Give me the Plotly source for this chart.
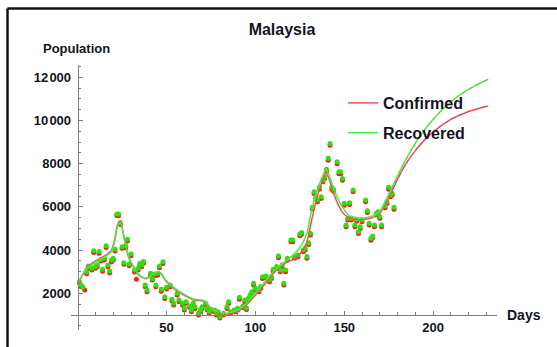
import plotly.graph_objects as go

# Daily observations (day number, population)
recovered_days = [1, 2, 3, 5, 6, 7, 8, 9, 10, 11, 12, 13, 14, 15, 16, 17, 18, 19, 20, 21,
                  22, 23, 24, 25, 26, 27, 28, 29, 30, 32, 34, 35, 36, 37, 38, 39, 41, 42,
                  43, 44, 45, 46, 47, 48, 49, 50, 52, 53, 54, 56, 57, 59, 60, 61, 63, 64,
                  65, 66, 68, 69, 70, 72, 73, 74, 75, 77, 78, 79, 80, 82, 84, 85, 86, 88,
                  89, 90, 91, 93, 94, 95, 96, 97, 98, 99, 100, 102, 103, 104, 106, 107,
                  108, 109, 110, 112, 113, 114, 115, 116, 117, 118, 120, 121, 122, 124,
                  125, 126, 127, 128, 129, 130, 131, 132, 133, 134, 135, 136, 137, 138,
                  139, 140, 141, 142, 143, 144, 146, 147, 148, 149, 150, 151, 152, 153,
                  154, 155, 156, 157, 158, 159, 160, 162, 163, 164, 165, 166, 167, 168,
                  169, 170, 171, 173, 174, 175, 176, 177, 178]
recovered_vals = [2540, 2385, 2280, 3000, 3265, 3235, 3160, 3975, 3235, 3310, 3930, 3570,
                  3110, 3620, 4206, 3310, 3030, 3540, 3620, 4040, 5670, 5670, 5270, 4160,
                  3420, 4200, 4500, 3360, 3820, 3080, 3160, 3390, 3310, 3470, 2385, 2150,
                  2925, 2690, 2895, 2385, 2925, 3265, 2185, 3465, 1845, 2280, 2385, 1720,
                  1537, 2000, 1690, 1537, 1305, 1614, 1413, 1228, 1537, 1382, 1075, 1228,
                  1382, 1537, 1305, 1150, 1260, 1228, 1075, 1150, 920, 1075, 1382, 1614,
                  1150, 1228, 1228, 1305, 1815, 1413, 1690, 1320, 1770, 1920, 2075, 2460,
                  2230, 2150, 2310, 2770, 2800, 2690, 2615, 2770, 3110, 3235, 3725, 3080,
                  3310, 2460, 3080, 3620, 4470, 4470, 3700, 3775, 4745, 4810, 4005, 4080,
                  3700, 4345, 4780, 5980, 6705, 6475, 6320, 6905, 6475, 7245, 7400, 7740,
                  8250, 8940, 6905, 6815, 8095, 7630, 7630, 7320, 6165, 5160, 5470, 6195,
                  5470, 6780, 5160, 5425, 4855, 5085, 5395, 6320, 5825, 5240, 4545, 4655,
                  5160, 5700, 5780, 5550, 5160, 6040, 6240, 6905, 6550, 6630, 5980]

confirmed_days = [1, 2, 4, 5, 6, 7, 8, 9, 10, 11, 12, 13, 14, 15, 16, 17, 18, 19, 20, 21,
                  22, 23, 24, 25, 26, 27, 28, 29, 30, 32, 33, 34, 35, 36, 37, 38, 39, 41,
                  42, 43, 44, 45, 46, 47, 48, 49, 50, 52, 53, 54, 56, 57, 59, 60, 61, 63,
                  64, 65, 66, 68, 69, 70, 72, 73, 74, 75, 77, 78, 79, 80, 82, 84, 85, 86,
                  88, 89, 90, 91, 93, 94, 95, 96, 97, 98, 99, 100, 102, 103, 104, 106,
                  107, 108, 109, 110, 112, 113, 114, 115, 116, 117, 118, 120, 121, 122,
                  124, 125, 126, 127, 128, 129, 130, 131, 132, 133, 134, 135, 136, 137,
                  138, 139, 140, 141, 142, 143, 144, 146, 147, 148, 149, 150, 151, 152,
                  153, 154, 155, 156, 157, 158, 159, 160, 162, 163, 164, 165, 166, 167,
                  168, 169, 170, 171, 173, 174, 175, 176, 177, 178]
confirmed_vals = [2460, 2300, 2150, 2910, 3190, 3150, 3080, 3890, 3160, 3230, 3850, 3490,
                  3020, 3540, 4120, 3230, 2950, 3450, 3540, 3960, 5600, 5590, 5190, 4080,
                  3340, 4110, 4420, 3280, 3740, 2990, 2650, 3080, 3310, 3230, 3390, 2300,
                  2070, 2840, 2610, 2810, 2300, 2840, 3180, 2100, 3380, 1760, 2200, 2300,
                  1640, 1460, 1920, 1610, 1460, 1230, 1540, 1340, 1150, 1460, 1300, 1000,
                  1150, 1300, 1460, 1230, 1080, 1180, 1150, 1000, 1080, 860, 1000, 1300,
                  1540, 1080, 1150, 1150, 1230, 1730, 1340, 1610, 1250, 1690, 1840, 1990,
                  2380, 2150, 2070, 2230, 2690, 2720, 2610, 2530, 2690, 3030, 3150, 3640,
                  3000, 3230, 2380, 3000, 3540, 4390, 4390, 3620, 3690, 4660, 4730, 3920,
                  4000, 3620, 4260, 4700, 5900, 6620, 6390, 6240, 6820, 6390, 7160, 7310,
                  7650, 8160, 8850, 6820, 6730, 8000, 7540, 7540, 7230, 6080, 5080, 5390,
                  6110, 5390, 6700, 5080, 5340, 4770, 5000, 5310, 6240, 5740, 5160, 4460,
                  4570, 5080, 5620, 5700, 5470, 5080, 5960, 6160, 6820, 6470, 6550, 5890]

# Fitted curves, including the forecast beyond the observed days
recovered_fit_days = [1, 5, 9, 15, 19, 21, 22.3, 24, 25, 27, 29, 32, 34.5, 38, 41, 45, 47,
                      49.5, 54, 60, 65.5, 70, 72, 75, 78.6, 82, 86, 90, 94, 99.8, 105.4,
                      111, 116.7, 122.3, 126, 129, 131.7, 134.5, 137.3, 139.7, 141.4, 144,
                      146.7, 149.5, 152.3, 156, 161.7, 167.3, 170, 173, 176.7, 181, 186,
                      192, 199, 207, 215, 223, 231]
recovered_fit_vals = [2600, 3150, 3390, 3670, 3930, 4470, 5085, 5317, 5010, 4237, 3620,
                      3157, 2850, 2694, 2800, 3000, 2925, 2617, 2277, 1953, 1722, 1690,
                      1614, 1305, 1150, 1075, 1105, 1228, 1460, 1999, 2540, 3080, 3465,
                      3850, 4237, 4777, 5857, 6705, 7323, 7740, 7477, 6860, 6320, 5935,
                      5625, 5517, 5500, 5625, 5780, 6240, 6860, 7600, 8380, 9200, 9950,
                      10650, 11180, 11580, 11907]

confirmed_fit_days = [1, 5, 9, 15, 19, 21, 22.3, 24, 25, 27, 29, 32, 34.5, 38, 41, 45, 47,
                      49.5, 54, 60, 65.5, 70, 72, 75, 78.6, 82, 86, 90, 94, 99.8, 105.4,
                      111, 116.7, 122.3, 126, 129, 131.7, 134.5, 137.3, 139.7, 141.4, 144,
                      146.7, 149.5, 152.3, 156, 161.7, 167.3, 170, 173, 176.7, 180, 184,
                      189, 195, 202, 210, 220, 231]
confirmed_fit_vals = [2560, 3180, 3440, 3720, 3990, 4560, 5150, 5360, 5040, 4220, 3600,
                      3140, 2830, 2670, 2780, 2990, 2900, 2580, 2230, 1900, 1680, 1650,
                      1570, 1270, 1110, 1040, 1060, 1170, 1380, 1900, 2430, 3000, 3390,
                      3620, 3930, 4390, 5395, 6397, 7090, 7585, 7320, 6630, 6090, 5700,
                      5517, 5425, 5425, 5550, 5700, 6090, 6705, 7280, 7900, 8500, 9080,
                      9600, 10050, 10420, 10671]

x_ticks = [50, 100, 150, 200]
y_ticks = [2000, 4000, 6000, 8000, 10000, 12000]
y_tick_text = ["2000", "4000", "6000", "8000", "10\u200a000", "12\u200a000"]

RED_DOT = "#f02020"
GREEN_DOT = "#2ee010"
RED_LINE = "#ff4d4d"
GREEN_LINE = "#44ee44"
AXIS = "#808080"
TEXT = "#141420"
FONT = "Liberation Sans, Arial, sans-serif"

X_RANGE = [-3.77, 235.96]
Y_RANGE = [301, 12569]
ORIGIN_X, ORIGIN_Y = 0, 1000

fig = go.Figure()

fig.add_trace(go.Scatter(x=confirmed_days, y=confirmed_vals, mode="markers",
                         marker=dict(color=RED_DOT, size=5, line=dict(width=0)),
                         showlegend=False, hoverinfo="skip"))
fig.add_trace(go.Scatter(x=recovered_days, y=recovered_vals, mode="markers",
                         marker=dict(color=GREEN_DOT, size=5, line=dict(width=0)),
                         showlegend=False, hoverinfo="skip"))

fig.add_trace(go.Scatter(x=confirmed_fit_days, y=confirmed_fit_vals, mode="lines",
                         line=dict(color=RED_LINE, width=1.5, shape="spline", smoothing=0.6),
                         name="Confirmed", legendgroup="c"))
fig.add_trace(go.Scatter(x=recovered_fit_days, y=recovered_fit_vals, mode="lines",
                         line=dict(color=GREEN_LINE, width=1.5, shape="spline", smoothing=0.6),
                         name="Recovered", legendgroup="r"))

# thin dashed overlays on the forecast part of each curve
for days, vals, col in [(confirmed_fit_days, confirmed_fit_vals, "rgba(110,90,180,0.75)"),
                        (recovered_fit_days, recovered_fit_vals, "rgba(190,150,60,0.7)")]:
    fx = [d for d in days if d >= 176]
    fy = [v for d, v in zip(days, vals) if d >= 176]
    fig.add_trace(go.Scatter(x=fx, y=fy, mode="lines",
                             line=dict(color=col, width=1, dash="4px,4px", shape="spline",
                                       smoothing=0.6),
                             showlegend=False, hoverinfo="skip"))

x_minor = [v for v in range(10, 231, 10) if v not in x_ticks]
y_minor = [v for v in range(500, 12501, 500) if v not in y_ticks and v != ORIGIN_Y]

x_pos = (ORIGIN_Y - Y_RANGE[0]) / (Y_RANGE[1] - Y_RANGE[0])
y_pos = (ORIGIN_X - X_RANGE[0]) / (X_RANGE[1] - X_RANGE[0])

fig.update_layout(
    width=557, height=347,
    margin=dict(l=71, r=60, t=65, b=17),
    paper_bgcolor="white", plot_bgcolor="white",
    title=dict(text="Malaysia", x=282 / 557, xref="container", xanchor="center",
               y=1 - 29 / 347, yref="container", yanchor="middle",
               font=dict(family=FONT, size=16, color=TEXT, weight="bold")),
    xaxis=dict(range=X_RANGE, anchor="free", position=x_pos,
               showgrid=False, zeroline=False, showline=True, linecolor=AXIS, linewidth=1,
               tickmode="array", tickvals=x_ticks, ticks="inside", ticklen=4,
               tickcolor=AXIS, tickwidth=1,
               minor=dict(tickmode="array", tickvals=x_minor, ticks="inside", ticklen=2.5,
                          tickcolor=AXIS, tickwidth=1, showgrid=False),
               tickfont=dict(family=FONT, size=13, color=TEXT, weight="bold")),
    yaxis=dict(range=Y_RANGE, anchor="free", position=y_pos,
               showgrid=False, zeroline=False, showline=True, linecolor=AXIS, linewidth=1,
               tickmode="array", tickvals=y_ticks, ticktext=y_tick_text, ticks="inside",
               ticklen=4, tickcolor=AXIS, tickwidth=1, ticklabelstandoff=4,
               minor=dict(tickmode="array", tickvals=y_minor, ticks="inside", ticklen=2.5,
                          tickcolor=AXIS, tickwidth=1, showgrid=False),
               tickfont=dict(family=FONT, size=13, color=TEXT, weight="bold")),
    legend=dict(x=(343 - 71) / 426, y=(330 - 86) / 265, xanchor="left", yanchor="top",
                bgcolor="rgba(0,0,0,0)", borderwidth=0, tracegroupgap=6,
                font=dict(family=FONT, size=16, color=TEXT, weight="bold")),
    annotations=[
        dict(text="Population", xref="paper", yref="paper",
             x=(76 - 71) / 426, y=(330 - 48) / 265, xanchor="center", yanchor="middle",
             showarrow=False, font=dict(family=FONT, size=13, color=TEXT, weight="bold")),
        dict(text="Days", xref="paper", yref="paper",
             x=(505 - 71) / 426, y=(330 - 315) / 265, xanchor="left", yanchor="middle",
             showarrow=False, font=dict(family=FONT, size=14, color=TEXT, weight="bold")),
    ],
    shapes=[
        dict(type="line", xref="paper", yref="paper", x0=(7.5 - 71) / 426, x1=(557 - 71) / 426,
             y0=(330 - 8.5) / 265, y1=(330 - 8.5) / 265, line=dict(color="#111111", width=2.5)),
        dict(type="line", xref="paper", yref="paper", x0=(7.5 - 71) / 426, x1=(7.5 - 71) / 426,
             y0=(330 - 8.5) / 265, y1=(330 - 347) / 265, line=dict(color="#111111", width=2.5)),
    ],
)

fig.write_html("out.html")
